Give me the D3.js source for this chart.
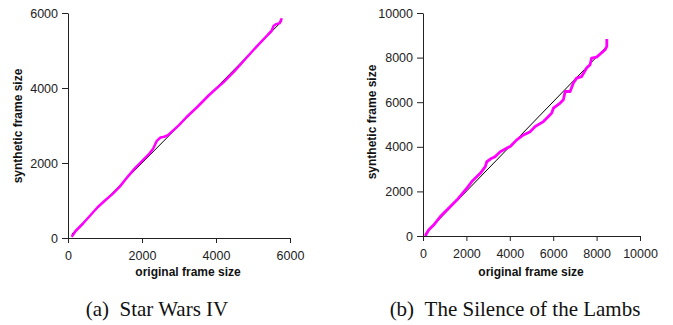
<!DOCTYPE html>
<html>
<head>
<meta charset="utf-8">
<script src="https://cdn.jsdelivr.net/npm/d3@7"></script>
<style>
  body { margin: 0; background: #fff; }
  .tick text { font-family: "Liberation Sans", Arial, sans-serif; font-size: 12.5px; fill: #222; }
  .axis-title { font-family: "Liberation Sans", Arial, sans-serif; font-size: 12px; font-weight: bold; fill: #111; }
  .caption { font-family: "Liberation Serif", "Times New Roman", serif; font-size: 21px; fill: #111; }
</style>
</head>
<body>
<div class="canvas"></div>
<script>
// data
var sw_ticks = [0, 2000, 4000, 6000]
var sw_ref = [[100, 100], [5780, 5780]]
var sw_qq = [[100, 30], [200, 180], [400, 380], [600, 600], [800, 820], [1000, 1000],
  [1200, 1170], [1400, 1370], [1600, 1620], [1800, 1850], [2000, 2050], [2200, 2250],
  [2300, 2380], [2400, 2590], [2500, 2680], [2600, 2700], [2700, 2740], [2800, 2830],
  [3000, 3010], [3200, 3220], [3500, 3500], [3800, 3800], [4000, 3980], [4200, 4150],
  [4500, 4450], [4800, 4780], [5000, 5000], [5200, 5210], [5400, 5420], [5500, 5520],
  [5560, 5660], [5620, 5700], [5720, 5730], [5780, 5860]]

var lambs_ticks = [0, 2000, 4000, 6000, 8000, 10000]
var lambs_ref = [[100, 100], [8470, 8500]]
var lambs_qq = [[100, 0], [260, 270], [490, 490], [800, 870], [1260, 1320], [1560, 1610],
  [2020, 2140], [2250, 2440], [2640, 2810], [2870, 3110], [2940, 3330], [3170, 3490],
  [3330, 3560], [3560, 3780], [3860, 3940], [4020, 4010], [4320, 4310], [4630, 4530],
  [4940, 4680], [5170, 4910], [5550, 5130], [5780, 5360], [5930, 5510], [6010, 5730],
  [6320, 5960], [6470, 6110], [6550, 6480], [6780, 6480], [6930, 6860], [7080, 7080],
  [7310, 7150], [7540, 7530], [7700, 7680], [7770, 7980], [8000, 8020], [8390, 8350],
  [8470, 8500], [8470, 8830]]

var svg = d3.select(".canvas").append("svg").attr("width", 673).attr("height", 325)

function panel(opt) {
  var x = d3.scaleLinear().domain([0, opt.max]).range([opt.left, opt.right])
  var y = d3.scaleLinear().domain([0, opt.max]).range([opt.bottom, opt.top])
  var g = svg.append("g")

  var line = d3.line().x(d => x(d[0])).y(d => y(d[1]))

  // reference diagonal
  g.append("path").datum(opt.ref)
    .attr("d", line)
    .attr("fill", "none").attr("stroke", "#000").attr("stroke-width", 1)

  // q-q curve
  g.append("path").datum(opt.qq)
    .attr("d", line)
    .attr("fill", "none").attr("stroke", "#ff00ff").attr("stroke-width", opt.width)
    .attr("stroke-linejoin", "round")

  g.append("g")
    .attr("transform", "translate(0," + opt.bottom + ")")
    .call(d3.axisBottom(x).tickValues(opt.ticks).tickFormat(d3.format("d")).tickSize(5).tickSizeOuter(0).tickPadding(8))
    .call(a => a.select(".domain").attr("stroke", "#222"))
    .call(a => a.selectAll("line").attr("stroke", "#222"))

  g.append("g")
    .attr("transform", "translate(" + opt.left + ",0)")
    .call(d3.axisLeft(y).tickValues(opt.ticks).tickFormat(d3.format("d")).tickSize(6).tickSizeOuter(0).tickPadding(4))
    .call(a => a.select(".domain").attr("stroke", "#222"))
    .call(a => a.selectAll("line").attr("stroke", "#222"))

  g.selectAll(".tick text").attr("font-family", null).attr("font-size", null).attr("fill", null)

  g.append("text").attr("class", "axis-title")
    .attr("x", opt.xtitle).attr("y", 276)
    .attr("text-anchor", "middle")
    .text("original frame size")

  g.append("text").attr("class", "axis-title")
    .attr("transform", "translate(" + opt.ytitle + "," + opt.ytitleY + ") rotate(-90)")
    .attr("text-anchor", "middle")
    .text("synthetic frame size")

  g.append("text").attr("class", "caption")
    .attr("x", opt.capX).attr("y", 316)
    .attr("text-anchor", "middle")
    .text(opt.caption)
}

panel({max: 6000, ticks: sw_ticks, ref: sw_ref, qq: sw_qq, width: 2.5,
  left: 68, right: 290, top: 13, bottom: 238,
  xtitle: 188, ytitle: 22, ytitleY: 126, capX: 157, caption: "(a)\u2002Star Wars IV"})

panel({max: 10000, ticks: lambs_ticks, ref: lambs_ref, qq: lambs_qq, width: 2.8,
  left: 423, right: 640, top: 13, bottom: 236,
  xtitle: 531, ytitle: 376, ytitleY: 122, capX: 515, caption: "(b)\u2002The Silence of the Lambs"})
</script>
</body>
</html>
